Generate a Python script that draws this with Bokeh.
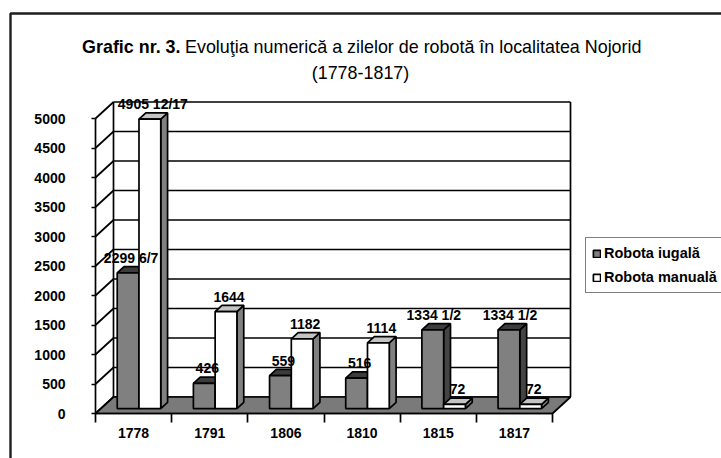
from bokeh.plotting import figure
from bokeh.models import (FixedTicker, CustomJSTickFormatter, ColumnDataSource, Legend,
                          LegendItem, LinearAxis)
from bokeh.core.properties import value
from bokeh.embed import file_html
from bokeh.resources import INLINE

# ---------------- data ----------------
years = ["1778", "1791", "1806", "1810", "1815", "1817"]
robota_iugala = [2299 + 6 / 7, 426, 559, 516, 1334.5, 1334.5]
robota_manuala = [4905 + 12 / 17, 1644, 1182, 1114, 72, 72]
labels_iugala = ["2299 6/7", "426", "559", "516", "1334  1/2", "1334  1/2"]
labels_manuala = ["4905 12/17", "1644", "1182", "1114", "72", "72"]
series_names = ["Robota iugală", "Robota manuală"]
y_ticks = [0, 500, 1000, 1500, 2000, 2500, 3000, 3500, 4000, 4500, 5000]
title_bold = "Grafic nr. 3."
title_rest = "Evoluţia numerică a zilelor de robotă în localitatea Nojorid"
title_line2 = "(1778-1817)"

# ---------------- geometry / style ----------------
FONT = "Liberation Sans"
FIG_W, FIG_H = 721, 458
ORIGIN_X, ORIGIN_Y = 95, 413      # pixel position of the front-left corner (x=0, value=0)
CAT_PX = 457 / 6                  # pixels per category
VAL_PX = 295 / 5000               # pixels per value unit
DX = 18 / CAT_PX                  # depth offset in category units
DY = 16.5 / VAL_PX                # depth offset in value units
F0, F1 = 0.30, 0.68               # bar depth (fraction of floor depth)
BW = 1 / 3.5                      # bar width (gap width 150%)
GAP = 0.75 / 3.5
LW = 1.7
n = len(years)
ymax_val = y_ticks[-1]


def sx(px):
    return (px - ORIGIN_X) / CAT_PX


def sy(py):
    return (ORIGIN_Y - py) / VAL_PX


p = figure(width=FIG_W, height=FIG_H, x_range=(sx(0), sx(FIG_W)), y_range=(sy(FIG_H), sy(0)),
           output_backend="svg", toolbar_location=None, x_axis_type=None, y_axis_type=None,
           min_border=0, min_border_left=0, min_border_bottom=0, min_border_top=0, min_border_right=0)
p.outline_line_color = None
p.background_fill_color = "white"
p.border_fill_color = "white"

# outer border of the chart
p.line([sx(10), sx(10), sx(FIG_W + 20)], [sy(FIG_H + 20), sy(13), sy(13)],
       line_color="#1e1e1e", line_width=2.4)

# back wall gridlines and side-wall diagonals
back_x = [[DX, n + DX] for v in y_ticks]
back_y = [[v + DY, v + DY] for v in y_ticks]
p.multi_line(back_x, back_y, line_color="black", line_width=LW)
side_x = [[0, DX] for v in y_ticks]
side_y = [[v, v + DY] for v in y_ticks]
p.multi_line(side_x, side_y, line_color="black", line_width=LW)
p.multi_line([[DX, DX], [n + DX, n + DX]], [[DY, ymax_val + DY], [DY, ymax_val + DY]],
             line_color="black", line_width=LW)

# floor
p.patch([0, n, n + DX, DX], [0, 0, DY, DY], fill_color="#7a7a7a", line_color="black", line_width=LW)

# bars
front_cols = ["#808080", "#ffffff"]
top_cols = ["#3c3c3c", "#c4c4c4"]
side_cols = ["#444444", "#808080"]
series = [robota_iugala, robota_manuala]
series_labels = [labels_iugala, labels_manuala]

sides_x, sides_y, sides_c = [], [], []
tops_x, tops_y, tops_c = [], [], []
for s, vals in enumerate(series):
    for i, v in enumerate(vals):
        xl = i + GAP + s * BW
        xr = xl + BW
        sides_x.append([xr + F0 * DX, xr + F1 * DX, xr + F1 * DX, xr + F0 * DX])
        sides_y.append([F0 * DY, F1 * DY, v + F1 * DY, v + F0 * DY])
        sides_c.append(side_cols[s])
        tops_x.append([xl + F0 * DX, xr + F0 * DX, xr + F1 * DX, xl + F1 * DX])
        tops_y.append([v + F0 * DY, v + F0 * DY, v + F1 * DY, v + F1 * DY])
        tops_c.append(top_cols[s])

p.patches(sides_x, sides_y, fill_color=sides_c, line_color="black", line_width=LW)
p.patches(tops_x, tops_y, fill_color=tops_c, line_color="black", line_width=LW)

front_renderers = []
for s, vals in enumerate(series):
    left = [i + GAP + s * BW + F0 * DX for i in range(n)]
    src = ColumnDataSource(dict(left=left, right=[l + BW for l in left],
                                bottom=[F0 * DY] * n, top=[v + F0 * DY for v in vals]))
    r = p.quad(left="left", right="right", bottom="bottom", top="top", source=src,
               fill_color=front_cols[s], line_color="black", line_width=LW)
    front_renderers.append(r)

# data labels
LBL_DY = 15 / VAL_PX
LBL_DX = 3 / CAT_PX
for s, vals in enumerate(series):
    xs = [i + GAP + s * BW + BW / 2 + F0 * DX + LBL_DX for i in range(n)]
    ys = [v + F0 * DY + LBL_DY for v in vals]
    p.text(xs, ys, text=series_labels[s], text_font=value(FONT), text_font_style="bold",
           text_font_size="14px", text_align="center", text_baseline="middle", text_color="black")

# title
split_x = sx(180)
p.text([split_x], [sy(46)], text=[title_bold], text_font=value(FONT), text_font_style="bold",
       text_font_size="17.9px", text_align="right", text_baseline="middle", text_color="black")
p.text([split_x + 4.5 / CAT_PX], [sy(46)], text=[title_rest], text_font=value(FONT),
       text_font_size="17.9px", text_align="left", text_baseline="middle", text_color="black")
p.text([sx(360)], [sy(72)], text=[title_line2], text_font=value(FONT),
       text_font_size="17.9px", text_align="center", text_baseline="middle", text_color="black")

# axes (placed at the front edges of the 3-D box)
yaxis = LinearAxis(ticker=FixedTicker(ticks=y_ticks, minor_ticks=[]), bounds=(0, ymax_val))
yaxis.fixed_location = 0
yaxis.axis_line_color = "black"
yaxis.axis_line_width = LW
yaxis.major_tick_line_color = "black"
yaxis.major_tick_line_width = LW
yaxis.major_tick_out = 4
yaxis.major_tick_in = 0
yaxis.minor_tick_line_color = None
yaxis.major_label_standoff = 26
yaxis.major_label_text_font = FONT
yaxis.major_label_text_font_style = "bold"
yaxis.major_label_text_font_size = "14px"
yaxis.major_label_text_color = "black"
p.add_layout(yaxis, "left")

xaxis = LinearAxis(ticker=FixedTicker(ticks=[i + 0.5 for i in range(n)], minor_ticks=list(range(n + 1))),
                   formatter=CustomJSTickFormatter(args=dict(years=years),
                                                   code="return years[Math.round(tick - 0.5)];"),
                   bounds=(0, n))
xaxis.fixed_location = 0
xaxis.axis_line_color = "black"
xaxis.axis_line_width = LW
xaxis.major_tick_line_color = None
xaxis.major_tick_out = 0
xaxis.major_tick_in = 0
xaxis.minor_tick_line_color = "black"
xaxis.minor_tick_line_width = LW
xaxis.minor_tick_out = 9
xaxis.minor_tick_in = 0
xaxis.major_label_standoff = 5
xaxis.major_label_text_font = FONT
xaxis.major_label_text_font_style = "bold"
xaxis.major_label_text_font_size = "14px"
xaxis.major_label_text_color = "black"
p.add_layout(xaxis, "below")

# legend
legend = Legend(items=[LegendItem(label=series_names[k], renderers=[front_renderers[k]]) for k in range(2)],
                location=(585, FIG_H - 293), orientation="vertical")
legend.label_text_font = FONT
legend.label_text_font_style = "bold"
legend.label_text_font_size = "14.5px"
legend.label_text_color = "black"
legend.glyph_width = 9
legend.glyph_height = 9
legend.label_standoff = 3
legend.padding = 6
legend.spacing = 6
legend.label_height = 18
legend.margin = 0
legend.border_line_color = "black"
legend.border_line_width = LW
legend.background_fill_color = "white"
legend.background_fill_alpha = 1
p.add_layout(legend)

open("out.html", "w").write(file_html(p, INLINE))
